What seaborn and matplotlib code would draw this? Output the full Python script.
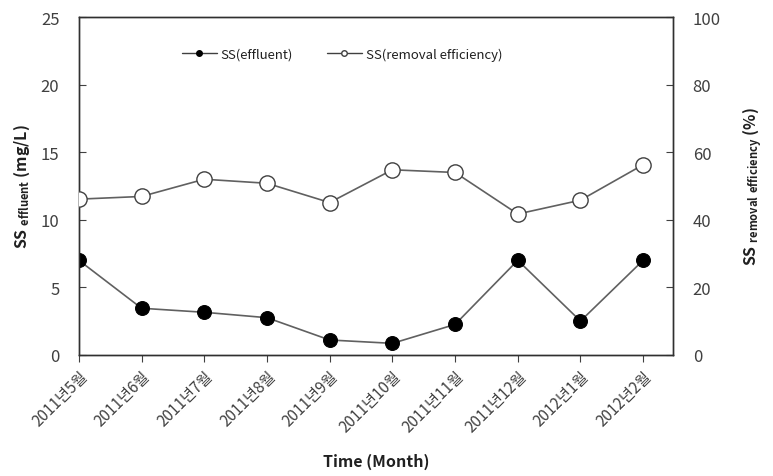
import pandas as pd
import matplotlib.pyplot as plt
import seaborn as sns

months = ['2011년5월', '2011년6월', '2011년7월', '2011년8월', '2011년9월',
          '2011년10월', '2011년11월', '2011년12월', '2012년1월', '2012년2월']
ss_effluent = [7.0, 3.45, 3.15, 2.75, 1.1, 0.85, 2.25, 7.0, 2.5, 7.0]
ss_removal = [46.1, 46.9, 52.0, 50.8, 45.1, 54.8, 54.0, 41.7, 45.8, 56.3]

df = pd.DataFrame({'month': months, 'effluent': ss_effluent, 'removal': ss_removal})
df['pos'] = range(len(df))

sns.set_style('ticks')
plt.rcParams['font.family'] = ['Noto Sans CJK KR', 'DejaVu Sans']
txt = '#404040'

fig = plt.figure(figsize=(7.73, 4.77), dpi=100)
ax = fig.add_axes([0.102, 0.254, 0.769, 0.708])
ax2 = ax.twinx()

sns.lineplot(data=df, x='pos', y='effluent', ax=ax, color='#606060', lw=1.2,
             marker='o', markersize=10, markerfacecolor='black',
             markeredgecolor='black', legend=False, zorder=3)
sns.lineplot(data=df, x='pos', y='removal', ax=ax2, color='#606060', lw=1.2,
             marker='o', markersize=11, markerfacecolor='white',
             markeredgecolor='#404040', markeredgewidth=1.0, legend=False, zorder=3)

ax.set_xlim(0, 9.48)
ax.set_ylim(0, 25)
ax2.set_ylim(0, 100)
ax.set_yticks([0, 5, 10, 15, 20, 25])
ax2.set_yticks([0, 20, 40, 60, 80, 100])
ax.set_xticks(df['pos'])
ax.set_xticklabels(months, rotation=45, ha='right', rotation_mode='anchor')

ax.tick_params(axis='y', direction='in', length=5, colors=txt, labelsize=12, labelcolor=txt, pad=14)
ax.tick_params(axis='x', direction='out', length=5, colors=txt, labelsize=11, labelcolor=txt, pad=4)
ax2.tick_params(axis='y', direction='in', length=5, colors=txt, labelsize=12, labelcolor=txt, pad=14)
for a in (ax, ax2):
    for s in a.spines.values():
        s.set_visible(True)
        s.set_color('#303030')
        s.set_linewidth(1.0)

ax.set_xlabel('Time (Month)', fontsize=11.5, fontweight='bold', color='#202020', labelpad=13)
ax.set_ylabel('SS $_{\\mathregular{effluent}}$ (mg/L)', fontsize=11.5, fontweight='bold',
              color='#202020', labelpad=6)
ax2.set_ylabel('SS $_{\\mathregular{removal\\ efficiency}}$ (%)', fontsize=11.5, fontweight='bold',
               color='#202020', rotation=90, labelpad=14)

h1 = plt.Line2D([], [], color='#404040', lw=1.0, marker='o', markersize=4,
                markerfacecolor='black', markeredgecolor='black')
h2 = plt.Line2D([], [], color='#404040', lw=1.0, marker='o', markersize=4,
                markerfacecolor='white', markeredgecolor='#404040')
ax.legend([h1, h2], ['SS(effluent)', 'SS(removal efficiency)'], loc='center',
          bbox_to_anchor=(0.443, 0.89), ncol=2, frameon=False, fontsize=9.5,
          handlelength=2.6, columnspacing=2.6, handletextpad=0.3, labelcolor='#202020')

fig.savefig('out.png', dpi=100)
